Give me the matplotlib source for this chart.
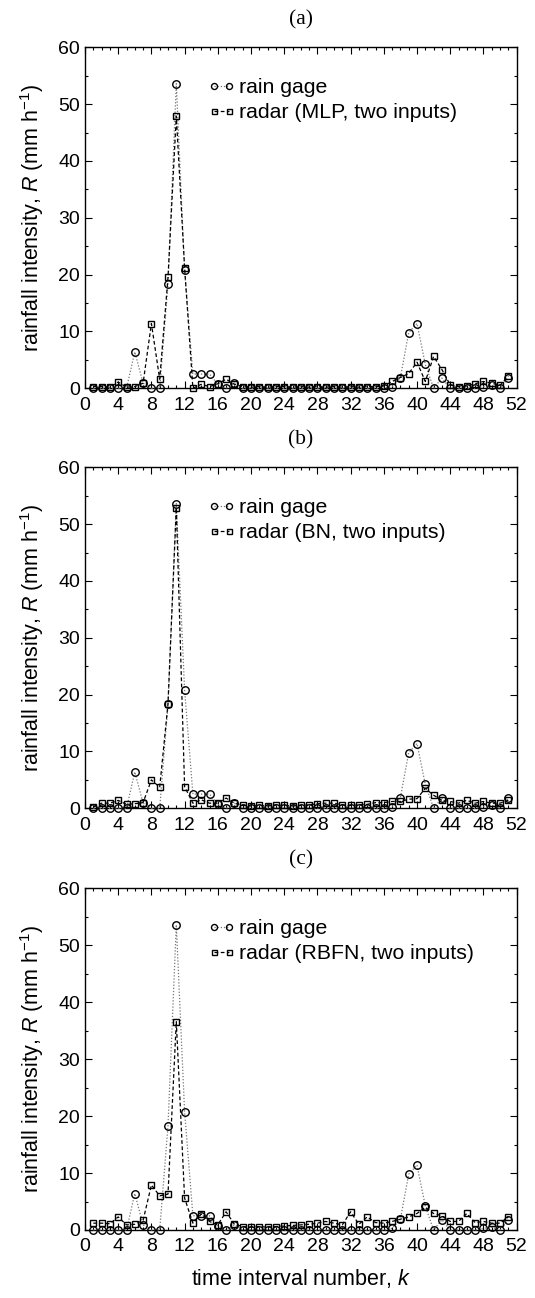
import matplotlib
matplotlib.use("Agg")
import matplotlib.pyplot as plt
from matplotlib.ticker import MultipleLocator
import numpy as np

plt.rcParams['font.family'] = ['Liberation Sans', 'DejaVu Sans']
plt.rcParams['mathtext.fontset'] = 'custom'
plt.rcParams['mathtext.rm'] = 'Liberation Sans'
plt.rcParams['mathtext.it'] = 'Liberation Sans:italic'

k = list(range(1, 52))

gage = [0, 0, 0, 0, 0, 6.4, 0.9, 0, 0, 18.3,
        53.6, 20.8, 2.5, 2.5, 2.5, 0.7, 0, 0.9, 0, 0,
        0, 0, 0, 0, 0, 0, 0, 0, 0, 0,
        0, 0, 0, 0, 0, 0, 0.3, 1.9, 9.8, 11.4,
        4.2, 0, 1.8, 0, 0, 0, 0, 0.3, 0.5, 0,
        1.8]

radar_mlp = [0.3, 0.3, 0.2, 1.1, 0.2, 0.3, 0.9, 11.4, 1.6, 19.5,
             47.9, 21.2, 0.0, 0.7, 0.3, 0.8, 1.6, 0.7, 0.3, 0.2,
             0.3, 0.2, 0.3, 0.3, 0.2, 0.3, 0.2, 0.3, 0.2, 0.3,
             0.2, 0.3, 0.2, 0.3, 0.3, 0.4, 1.2, 1.9, 2.6, 4.6,
             1.2, 5.6, 3.3, 0.6, 0.3, 0.4, 0.8, 1.2, 0.9, 0.5,
             2.1]

radar_bn = [0.2, 0.9, 0.9, 1.4, 0.7, 0.8, 1.0, 5.0, 3.7, 18.4,
            52.9, 3.8, 0.9, 1.5, 0.9, 0.9, 1.8, 0.9, 0.5, 0.4,
            0.5, 0.4, 0.6, 0.5, 0.4, 0.5, 0.6, 0.8, 0.9, 0.9,
            0.6, 0.5, 0.6, 0.7, 1.0, 1.0, 1.2, 1.2, 1.6, 1.7,
            3.5, 2.3, 1.4, 1.2, 0.9, 1.4, 0.9, 1.2, 0.9, 0.9,
            1.4]

radar_rbfn = [1.2, 1.2, 1.1, 2.3, 0.9, 1.0, 1.7, 7.9, 6.0, 6.3,
              36.6, 5.6, 1.2, 2.8, 1.5, 0.9, 3.2, 1.0, 0.6, 0.5,
              0.6, 0.5, 0.6, 0.7, 0.8, 0.9, 1.0, 1.2, 1.5, 1.2,
              0.9, 3.2, 1.0, 2.3, 1.3, 1.2, 1.5, 1.9, 2.3, 2.9,
              4.0, 2.9, 2.5, 1.5, 1.5, 2.9, 1.3, 1.5, 1.2, 1.2,
              2.3]

panel_titles = ['(a)', '(b)', '(c)']
radar_labels = ['radar (MLP, two inputs)', 'radar (BN, two inputs)',
                'radar (RBFN, two inputs)']
radar_series = [radar_mlp, radar_bn, radar_rbfn]
xticks = list(range(0, 53, 4))
yticks = list(range(0, 61, 10))

W, H = 535, 1298
fig = plt.figure(figsize=(W / 100, H / 100), dpi=100)

left_px, right_px = 85, 516.6
panels_px = [(47.3, 388.3), (467.3, 808.3), (888.3, 1230.0)]
title_y_px = [20, 440, 860]

for i, (top, bot) in enumerate(panels_px):
    ax = fig.add_axes([left_px / W, 1 - bot / H, (right_px - left_px) / W, (bot - top) / H])
    ax.plot(k, gage, linestyle=(0, (1, 1.5)), color='#777777', linewidth=0.9,
            marker='o', markersize=5.4, markerfacecolor='none',
            markeredgecolor='black', markeredgewidth=1.0, clip_on=False,
            label='rain gage', zorder=3)
    ax.plot(k, radar_series[i], linestyle=(0, (3, 2)), color='black', linewidth=0.9,
            marker='s', markersize=4.5, markerfacecolor='none',
            markeredgecolor='black', markeredgewidth=1.0, clip_on=False,
            label=radar_labels[i], zorder=4)
    ax.set_xlim(0, 52)
    ax.set_ylim(0, 60)
    ax.set_xticks(xticks)
    ax.set_yticks(yticks)
    ax.xaxis.set_minor_locator(MultipleLocator(1))
    ax.yaxis.set_minor_locator(MultipleLocator(5))
    ax.tick_params(which='both', direction='in', top=True, right=True,
                   labelsize=14, width=0.8)
    ax.tick_params(which='major', length=5)
    ax.tick_params(which='minor', length=2.5)
    ax.tick_params(axis='x', pad=6)
    for s in ax.spines.values():
        s.set_linewidth(1.0)
    ax.set_ylabel('rainfall intensity, $\\mathit{R}$ (mm h$^{-1}$)', fontsize=15.5, labelpad=9)
    leg = ax.legend(loc='upper left', bbox_to_anchor=(0.285, 0.91), frameon=False,
                    fontsize=15.3, numpoints=2, handlelength=1.3, handletextpad=0.15,
                    borderpad=0, borderaxespad=0, labelspacing=0.3, markerscale=0.8)
    fig.text((left_px + right_px) / 2 / W, 1 - title_y_px[i] / H, panel_titles[i],
             ha='center', va='center', fontsize=15.5, family='Liberation Serif')

fig.text((left_px + right_px) / 2 / W, 1 - 1278 / H, 'time interval number, $\\mathit{k}$',
         ha='center', va='center', fontsize=15.5)

fig.savefig('out.png', dpi=100)
